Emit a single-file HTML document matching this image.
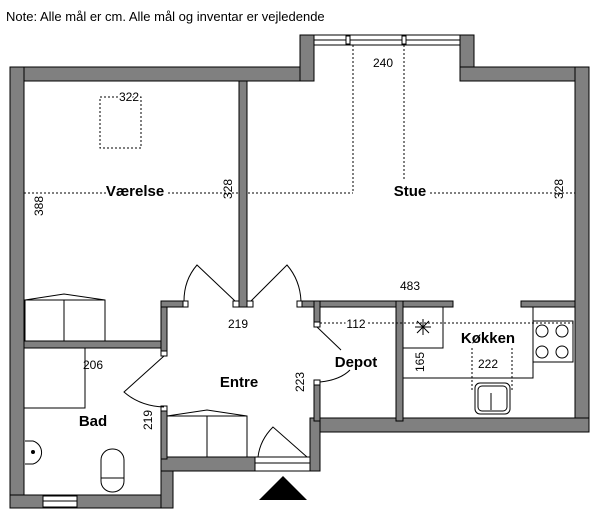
<!DOCTYPE html>
<html><head><meta charset="utf-8"><style>body{margin:0;background:#fff}svg{display:block}text{font-family:"Liberation Sans",sans-serif}</style></head><body>
<svg width="600" height="517" viewBox="0 0 600 517" xmlns="http://www.w3.org/2000/svg">
<text x="6" y="21" font-size="13">Note: Alle mål er cm. Alle mål og inventar er vejledende</text>
<g fill="#808080" stroke="#000" stroke-width="1">
<rect x="10" y="67" width="291" height="14"/>
<rect x="300" y="35" width="14" height="46"/>
<rect x="460" y="35" width="14" height="46"/>
<rect x="460" y="67" width="129" height="14"/>
<rect x="575" y="67" width="14" height="365"/>
<rect x="10" y="67" width="14" height="441"/>
<rect x="10" y="495" width="163" height="13"/>
<rect x="161" y="457" width="12" height="51"/>
<rect x="161" y="457" width="94" height="14"/>
<rect x="310" y="418" width="279" height="14"/>
<rect x="310" y="418" width="10" height="53"/>
<rect x="239" y="81" width="8" height="226"/>
<rect x="24" y="341" width="143" height="7"/>
<rect x="161" y="301" width="6" height="54"/>
<rect x="161" y="407" width="6" height="52"/>
<rect x="161" y="301" width="22" height="6"/>
<rect x="302" y="301" width="151" height="6"/>
<rect x="521" y="301" width="54" height="6"/>
<rect x="314" y="301" width="6" height="25"/>
<rect x="314" y="381" width="6" height="40"/>
<rect x="396" y="301" width="7" height="120"/>
</g>
<g fill="#fff" stroke="#000" stroke-width="1">
<rect x="314" y="35" width="146" height="10"/><line x1="314" y1="40" x2="460" y2="40"/>
<rect x="346" y="36" width="4" height="8"/><rect x="402" y="36" width="4" height="8"/>
<rect x="43" y="496" width="34" height="11"/><line x1="43" y1="501" x2="77" y2="501"/>
<rect x="255" y="457" width="55" height="14"/><line x1="255" y1="463" x2="310" y2="463"/>
<rect x="183" y="301" width="5" height="6"/><rect x="233" y="301" width="6" height="6"/>
<rect x="247" y="301" width="6" height="6"/><rect x="297" y="301" width="5" height="6"/>
<rect x="161" y="351" width="6" height="5"/><rect x="161" y="406" width="6" height="5"/>
<rect x="314" y="322" width="6" height="5"/><rect x="314" y="380" width="6" height="5"/>
</g>
<g fill="none" stroke="#000" stroke-width="1">
<path d="M235 301 L197 265 Q184 280 184 301"/>
<path d="M251 301 L287 265 Q300 280 301 301"/>
<path d="M164 356 L124 392 Q140 406 164 407"/>
<path d="M317 327 L341 350"/><path d="M320 382 Q340 380 350 370"/>
<path d="M307 457 L273 427 Q260 440 258 457"/>
<rect x="25" y="300" width="80" height="41"/><line x1="64" y1="300" x2="64" y2="341"/>
<path d="M25 300 L64 294 L105 300"/>
<rect x="167" y="416" width="80" height="41"/><line x1="207" y1="416" x2="207" y2="457"/>
<path d="M167 416 L207 410 L247 416"/>
<path d="M85 348 V408 H24"/>
<path d="M25 441 H33 A12 12 0 0 1 33 464 H25"/><circle cx="33" cy="452" r="1.5" fill="#000"/>
<rect x="101" y="449" width="23" height="43" rx="11"/><line x1="101" y1="478" x2="124" y2="478"/>
<path d="M403 378 H533 V307"/>
<rect x="403" y="307" width="40" height="41"/>
<path d="M533 321 H573 V362 H533"/>
<circle cx="542" cy="331" r="6"/><circle cx="562" cy="331" r="6"/><circle cx="542" cy="352" r="6"/><circle cx="562" cy="352" r="6"/>
<rect x="475" y="383" width="35" height="31" rx="5"/><rect x="478" y="386" width="29" height="25" rx="4"/>
<line x1="491" y1="393" x2="491" y2="410"/>
<path d="M415 327 H431 M423 319 V335 M417 321 L429 333 M429 321 L417 333"/>
</g>
<g fill="none" stroke="#000" stroke-width="1" stroke-dasharray="2,2">
<line x1="24" y1="193" x2="240" y2="193"/>
<line x1="248" y1="193" x2="353" y2="193"/>
<line x1="353" y1="45" x2="353" y2="193"/>
<line x1="404" y1="45" x2="404" y2="180"/>
<line x1="430" y1="193" x2="575" y2="193"/>
<rect x="100" y="97" width="41" height="51"/>
<line x1="320" y1="323" x2="573" y2="323"/>
<path d="M472 348 V390 M512 348 V390"/>
</g>
<g font-size="12" fill="#000">
<text x="383" y="67" text-anchor="middle">240</text>
<text x="129" y="101" text-anchor="middle" fill="#000" stroke="#fff" stroke-width="3" paint-order="stroke">322</text>
<text x="410" y="290" text-anchor="middle">483</text>
<text x="238" y="328" text-anchor="middle">219</text>
<text x="93" y="369" text-anchor="middle">206</text>
<text x="356" y="328" text-anchor="middle" stroke="#fff" stroke-width="4" paint-order="stroke">112</text>
<text x="488" y="368" text-anchor="middle">222</text>
<text transform="translate(43,206) rotate(-90)" text-anchor="middle">388</text>
<text transform="translate(232,189) rotate(-90)" text-anchor="middle">328</text>
<text transform="translate(563,189) rotate(-90)" text-anchor="middle">328</text>
<text transform="translate(304,382) rotate(-90)" text-anchor="middle">223</text>
<text transform="translate(152,420) rotate(-90)" text-anchor="middle">219</text>
<text transform="translate(424,362) rotate(-90)" text-anchor="middle">165</text>
</g>
<g font-size="15" font-weight="bold" fill="#000" text-anchor="middle">
<text x="135" y="196" stroke="#fff" stroke-width="4" paint-order="stroke">Værelse</text>
<text x="410" y="196" stroke="#fff" stroke-width="4" paint-order="stroke">Stue</text>
<text x="488" y="343">Køkken</text>
<text x="356" y="367">Depot</text>
<text x="239" y="387">Entre</text>
<text x="93" y="426">Bad</text>
</g>
<polygon points="259,500 307,500 283,476" fill="#000"/>
</svg>
</body></html>
